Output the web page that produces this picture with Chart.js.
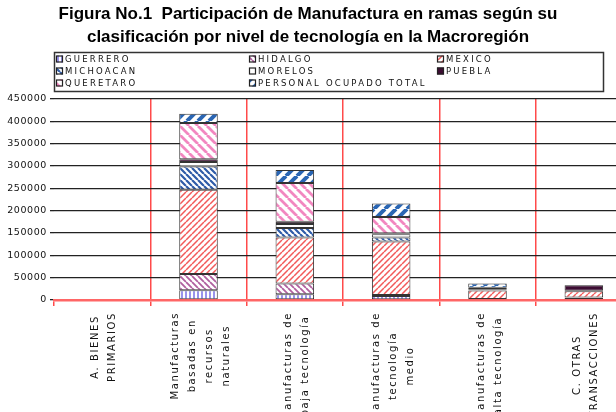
<!DOCTYPE html>
<html><head><meta charset="utf-8">
<script src="https://cdn.jsdelivr.net/npm/chart.js@4/dist/chart.umd.min.js"></script>
<style>
html,body{margin:0;padding:0;background:#fff;overflow:hidden;width:616px;height:412px}
#wrap{position:absolute;left:0;top:0;width:640px;height:412px}
canvas{display:block}
</style></head><body>
<div id="wrap"><canvas id="c" width="640" height="412" style="width:640px;height:412px"></canvas></div>
<script>
// ---- data ----
const titleLines = ["Figura No.1  Participación de Manufactura en ramas según su", "clasificación por nivel de tecnología en la Macroregión"];
const categories = [
  ["A. BIENES", "PRIMARIOS"],
  ["Manufacturas", "basadas en", "recursos", "naturales"],
  ["Manufacturas de", "baja tecnología"],
  ["Manufacturas de", "tecnología", "medio"],
  ["Manufacturas de", "alta tecnología"],
  ["C. OTRAS", "TRANSACCIONES"]
];
const seriesNames = ["GUERRERO", "HIDALGO", "MEXICO", "MICHOACAN", "MORELOS", "PUEBLA", "QUERETARO", "PERSONAL OCUPADO TOTAL"];
const guerrero  = [0, 22000, 13000,   9000,  1500,  5000];
const hidalgo   = [0, 36000, 24000,   2000,   500,   500];
const mexico    = [0, 189000, 103000, 120000, 19000, 14000];
const michoacan = [0, 52000, 21000,   9000,  1000,   500];
const morelos   = [0, 10000,  9000,   7000,   500,   500];
const puebla    = [0,  6000,  5000,   2000,  1500, 12500];
const queretaro = [0, 81000, 87000,  37000,  3500,     0];
const personalTotal = [0, 21000, 29000, 30000, 9500, 500];
const yMin = 0, yMax = 450000, yStep = 50000;

const canvas = document.getElementById('c');
const ctx0 = canvas.getContext('2d');

function makePattern(kind, color, size, lw, bg) {
  const c = document.createElement('canvas');
  c.width = c.height = size;
  const g = c.getContext('2d');
  g.fillStyle = bg || '#ffffff';
  g.fillRect(0, 0, size, size);
  g.strokeStyle = color; g.lineWidth = lw; g.beginPath();
  if (kind === '/') { for (const k of [-size, 0, size]) { g.moveTo(k, size); g.lineTo(k + size, 0); } }
  else if (kind === '\\') { for (const k of [-size, 0, size]) { g.moveTo(k, 0); g.lineTo(k + size, size); } }
  else if (kind === '|') { g.moveTo(size / 2, 0); g.lineTo(size / 2, size); }
  g.stroke();
  return ctx0.createPattern(c, 'repeat');
}

const fills = [
  makePattern('|', '#7f78e6', 4, 1.6),
  makePattern('\\', '#b0609f', 6, 1.8),
  makePattern('/', '#f25a5a', 6, 1.5),
  makePattern('\\', '#2f5ca8', 6, 2.2),
  '#ffffff',
  '#3d0d33',
  makePattern('\\', '#f287c0', 9, 2.8),
  makePattern('/', '#2a66b4', 11, 4)
];
const seriesValues = [guerrero, hidalgo, mexico, michoacan, morelos, puebla, queretaro, personalTotal];

const datasets = seriesNames.map((name, i) => ({
  label: name,
  data: seriesValues[i],
  backgroundColor: fills[i],
  borderColor: '#333333',
  borderWidth: 1,
  borderSkipped: false,
  barPercentage: 0.4,
  categoryPercentage: 1.0
}));

const FONT = '"DejaVu Sans", "Liberation Sans", sans-serif';

const decor = {
  id: 'decor',
  beforeDraw(chart) {
    chart.ctx.letterSpacing = '0.6px';
  },
  afterDraw(chart) {
    const ctx = chart.ctx;
    const xs = chart.scales.x;
    // Title
    ctx.save();
    ctx.letterSpacing = '0px';
    ctx.fillStyle = '#000';
    ctx.textAlign = 'center';
    ctx.textBaseline = 'middle';
    ctx.font = 'bold 17px "Liberation Sans Narrow", "Arial Narrow", "Liberation Sans", sans-serif';
    ctx.fillText(titleLines[0], 308, 14);
    ctx.fillText(titleLines[1], 308, 37);
    ctx.restore();

    // Legend box
    ctx.save();
    ctx.strokeStyle = '#333';
    ctx.lineWidth = 1.5;
    ctx.strokeRect(54.5, 52.5, 549, 39);
    const colX = [56, 249, 437];
    const rowY = [59, 71, 83];
    ctx.font = '8.5px ' + FONT;
    ctx.letterSpacing = '2.2px';
    ctx.textBaseline = 'middle';
    ctx.textAlign = 'left';
    seriesNames.forEach((name, i) => {
      const cx = colX[i % 3], cy = rowY[Math.floor(i / 3)];
      ctx.fillStyle = fills[i];
      ctx.fillRect(cx, cy - 3.5, 7, 7);
      ctx.strokeStyle = '#222';
      ctx.lineWidth = 1.2;
      ctx.strokeRect(cx + 0.5, cy - 3, 6, 6);
      ctx.fillStyle = '#111';
      ctx.fillText(name, cx + 9, cy + 0.5);
    });
    ctx.restore();

    // Category labels, rotated; block top at fixed distance below axis, lines centred
    ctx.save();
    ctx.font = '10px ' + FONT;
    ctx.letterSpacing = '1.6px';
    ctx.fillStyle = '#111';
    ctx.textAlign = 'center';
    ctx.textBaseline = 'middle';
    const top = chart.chartArea.bottom + 12;
    categories.forEach((lines, i) => {
      const x = xs.getPixelForValue(i);
      const n = lines.length;
      const maxW = Math.max(...lines.map(l => ctx.measureText(l).width));
      const cy = top + maxW / 2;
      lines.forEach((line, j) => {
        const off = (j - (n - 1) / 2) * 17;
        ctx.save();
        ctx.translate(x + off + 2, cy);
        ctx.rotate(-Math.PI / 2);
        ctx.fillText(line, 0, 0);
        ctx.restore();
      });
    });
    ctx.restore();
  }
};

new Chart(canvas, {
  type: 'bar',
  data: { labels: categories.map(l => l.join(' ')), datasets },
  options: {
    responsive: false,
    animation: false,
    devicePixelRatio: 1,
    layout: { padding: { top: 99, right: 8, left: 0, bottom: 0 } },
    plugins: { legend: { display: false }, tooltip: { enabled: false }, title: { display: false } },
    scales: {
      x: {
        stacked: true,
        offset: true,
        grid: {
          offset: true,
          color: c => (c.index === 0 ? 'rgba(0,0,0,0)' : '#ff4a4a'),
          tickColor: '#ff4a4a',
          lineWidth: 1.5,
          tickLength: 6
        },
        border: { display: true, color: '#ff6666', width: 2.5 },
        ticks: { display: false },
        afterFit(s) { s.height = 112; }
      },
      y: {
        stacked: true,
        min: yMin, max: yMax,
        ticks: {
          stepSize: yStep, color: '#111', font: { family: FONT, size: 9.5 }, padding: 3,
          callback: v => String(v)
        },
        grid: {
          color: c => (c.tick && c.tick.value === 0 ? 'rgba(0,0,0,0)' : '#222'),
          tickColor: '#222',
          lineWidth: 1.3,
          tickLength: 4
        },
        border: { display: false },
        afterFit(s) { s.width = 54; }
      }
    }
  },
  plugins: [decor]
});
</script>
</body></html>
